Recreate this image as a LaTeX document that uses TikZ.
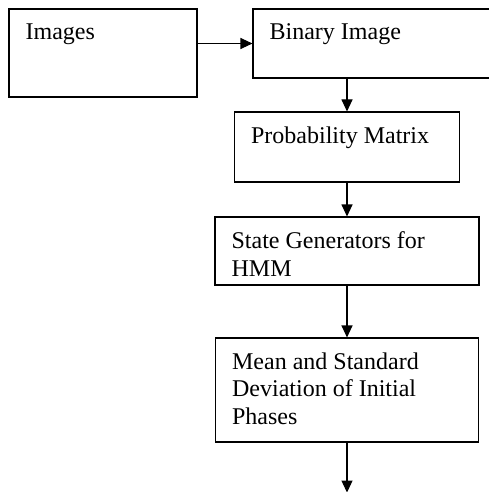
\documentclass[tikz,border=0pt]{standalone}
\usepackage{fontspec}
\setmainfont{Liberation Serif}
\usepackage{tikz}
\usetikzlibrary{arrows.meta,positioning,calc}
\tikzset{
  fbox/.style={draw,line width=1.1pt,inner sep=0pt,fill=white},
  ftext/.style={anchor=north west,xshift=17pt,yshift=-15pt,inner sep=0pt,
    align=left,font=\fontsize{24}{27.5}\selectfont},
  fflow/.style={-{Triangle[length=12pt,width=11pt]},line width=1.1pt},
}

\begin{document}
\begin{tikzpicture}[x=1pt,y=-1pt]
\useasboundingbox (0,0) rectangle (488,492);
% top row: input and binarised image
\node[fbox,minimum width=188pt,minimum height=88pt,
  label={[ftext]north west:Images}] (img) at (103,53) {};
\node[fbox,minimum width=240pt,minimum height=69pt,
  label={[ftext]north west:Binary Image}] (bin) at (373,43.5) {};
% the chain down to the HMM features
\node[fbox,minimum width=225pt,minimum height=70pt,
  label={[ftext]north west:Probability Matrix}] (prob) at (347,147) {};
\node[fbox,minimum width=264pt,minimum height=68pt,
  label={[ftext]north west:State Generators for\\HMM}] (state) at (347,251) {};
\node[fbox,minimum width=263pt,minimum height=104pt,
  label={[ftext]north west:Mean and Standard\\Deviation of Initial\\Phases}] (mean) at (347,390) {};
\coordinate (out) at ($(mean.south)+(0,50)$);
% connectors
\draw[fflow] (img.east |- bin.west) -- (bin.west);
\draw[fflow] (bin.south -| prob.north) -- (prob.north);
\draw[fflow] (prob.south) -- (state.north);
\draw[fflow] (state.south) -- (mean.north);
\draw[fflow] (mean.south) -- (out);
\end{tikzpicture}
\end{document}
